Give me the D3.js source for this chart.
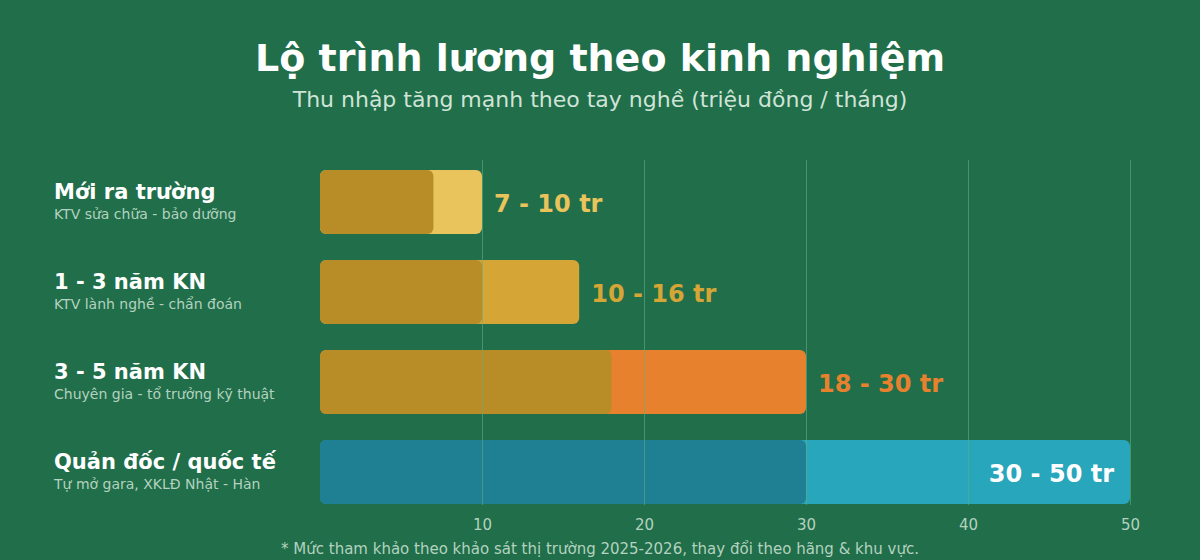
<!DOCTYPE html>
<html>
<head>
<meta charset="utf-8">
<script src="https://cdn.jsdelivr.net/npm/d3@7"></script>
<style>
  html, body { margin: 0; padding: 0; background: #206e4a; }
  svg { display: block; font-family: "DejaVu Sans", sans-serif; }
</style>
</head>
<body>
<div id="chart"></div>
<script>
// ── Data ───────────────────────────────────────────────────────────────
const levels = ["Mới ra trường", "1 - 3 năm KN", "3 - 5 năm KN", "Quản đốc / quốc tế"];
const roles = [
  "KTV sửa chữa - bảo dưỡng",
  "KTV lành nghề - chẩn đoán",
  "Chuyên gia - tổ trưởng kỹ thuật",
  "Tự mở gara, XKLĐ Nhật - Hàn",
];
const minPay = [7, 10, 18, 30];
const maxPay = [10, 16, 30, 50];
const ticks = [10, 20, 30, 40, 50];
const barColors = ["#e9c35b", "#d5a535", "#e8812d", "#28a6bc"];
const baseColors = ["#b88c27", "#b88c27", "#b88c27", "#1f7f93"];
const labelColors = ["#e9c35b", "#d5a535", "#e8812d", "#ffffff"];

const W = 1200, H = 560;
const svg = d3.select("#chart").append("svg").attr("width", W).attr("height", H);

svg.append("rect").attr("width", W).attr("height", H).attr("fill", "#206e4a");

// ── Title ──────────────────────────────────────────────────────────────
svg.append("text")
  .attr("x", W / 2).attr("y", 71)
  .attr("text-anchor", "middle")
  .attr("fill", "#ffffff")
  .style("font-size", "38px").style("font-weight", "bold")
  .text("Lộ trình lương theo kinh nghiệm");

svg.append("text")
  .attr("x", W / 2).attr("y", 107)
  .attr("text-anchor", "middle")
  .attr("fill", "#cfe4d6")
  .style("font-size", "22px")
  .text("Thu nhập tăng mạnh theo tay nghề (triệu đồng / tháng)");

// ── Scales ─────────────────────────────────────────────────────────────
const x = d3.scaleLinear().domain([0, 50]).range([320, 1130]);
const y = d3.scaleBand().domain(levels).range([157, 517]).paddingInner(26 / 90).paddingOuter(13 / 90);

const rows = levels.map((l, i) => ({ i, level: l, role: roles[i], lo: minPay[i], hi: maxPay[i] }));

// ── Bars ───────────────────────────────────────────────────────────────
svg.selectAll(".bar-hi").data(rows).join("rect")
  .attr("class", "bar-hi")
  .attr("x", x(0)).attr("y", (d) => y(d.level))
  .attr("width", (d) => x(d.hi) - x(0))
  .attr("height", y.bandwidth())
  .attr("rx", 6).attr("ry", 6)
  .attr("fill", (d) => barColors[d.i]);

svg.selectAll(".bar-lo").data(rows).join("rect")
  .attr("class", "bar-lo")
  .attr("x", x(0)).attr("y", (d) => y(d.level))
  .attr("width", (d) => x(d.lo) - x(0))
  .attr("height", y.bandwidth())
  .attr("rx", 6).attr("ry", 6)
  .attr("fill", (d) => baseColors[d.i]);

// ── Grid + axis ────────────────────────────────────────────────────────
const axis = svg.append("g")
  .attr("transform", "translate(0,505)")
  .call(d3.axisBottom(x).tickValues(ticks).tickSize(-345).tickPadding(14));
axis.select(".domain").remove();
axis.selectAll(".tick line").attr("stroke", "#5fae85").attr("stroke-opacity", 0.6);
axis.selectAll(".tick text")
  .attr("fill", "#b4d2bf")
  .style("font-size", "15px")
  .style("font-family", "DejaVu Sans, sans-serif");

// ── Row labels ─────────────────────────────────────────────────────────
svg.selectAll(".lvl").data(rows).join("text")
  .attr("class", "lvl")
  .attr("x", 54).attr("y", (d) => y(d.level) + 29)
  .attr("fill", "#ffffff")
  .style("font-size", "21px").style("font-weight", "bold")
  .text((d) => d.level);

svg.selectAll(".role").data(rows).join("text")
  .attr("class", "role")
  .attr("x", 54).attr("y", (d) => y(d.level) + 49)
  .attr("fill", "#b4d2bf")
  .style("font-size", "14px")
  .text((d) => d.role);

// ── Value labels ───────────────────────────────────────────────────────
svg.selectAll(".val").data(rows).join("text")
  .attr("class", "val")
  .attr("x", (d) => (d.i === 3 ? x(d.hi) - 16 : x(d.hi) + 12))
  .attr("y", (d) => y(d.level) + y.bandwidth() / 2 + 10)
  .attr("text-anchor", (d) => (d.i === 3 ? "end" : "start"))
  .attr("fill", (d) => labelColors[d.i])
  .style("font-size", "24px").style("font-weight", "bold")
  .text((d) => `${d.lo} - ${d.hi} tr`);

// ── Footnote ───────────────────────────────────────────────────────────
svg.append("text")
  .attr("x", W / 2).attr("y", 554)
  .attr("text-anchor", "middle")
  .attr("fill", "#b4d2bf")
  .style("font-size", "15px")
  .text("* Mức tham khảo theo khảo sát thị trường 2025-2026, thay đổi theo hãng & khu vực.");
</script>
</body>
</html>
